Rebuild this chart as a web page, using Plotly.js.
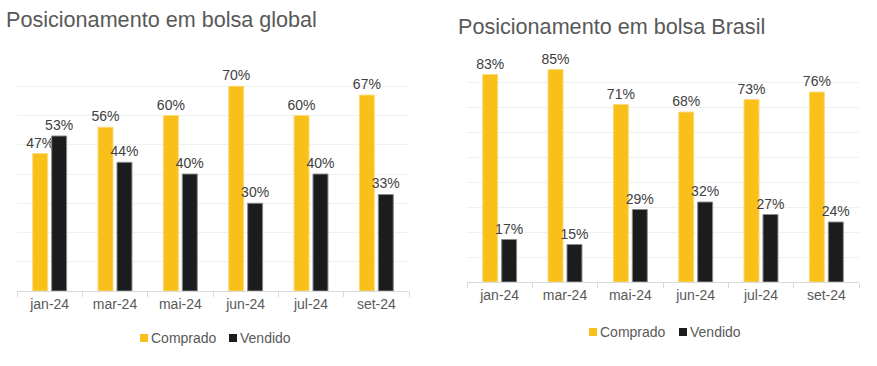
<!DOCTYPE html>
<html>
<head>
<meta charset="utf-8">
<script src="https://cdn.plot.ly/plotly-3.0.1.min.js"></script>
<style>html,body{margin:0;padding:0;background:#fff;}#chart{width:877px;height:366px;}</style>
</head>
<body>
<div id="chart"></div>
<script>
var months = ["jan-24", "mar-24", "mai-24", "jun-24", "jul-24", "set-24"];
var globalComprado = [47, 56, 60, 70, 60, 67];
var globalVendido = [53, 44, 40, 30, 40, 33];
var brasilComprado = [83, 85, 71, 68, 73, 76];
var brasilVendido = [17, 15, 29, 32, 27, 24];
var seriesNames = ["Comprado", "Vendido"];

var YELLOW = "#F8C018";
var BLACK = "#1B1C1E";
var TXT = "#595959";
var FONT = "Liberation Sans, Arial, sans-serif";
var W = 877, H = 366;

function bar(x, y, name, color, lineColor, xa, ya) {
  return {
    type: "bar", x: x, y: y, name: name,
    xaxis: xa, yaxis: ya, showlegend: false,
    marker: {color: color, line: {color: lineColor, width: 1}},
    texttemplate: "%{y}%", textposition: "outside", cliponaxis: false,
    constraintext: "none",
    textfont: {family: FONT, size: 14, color: "#404040"},
    hoverinfo: "x+y"
  };
}

var data = [
  bar(months, globalComprado, seriesNames[0], YELLOW, "#FADA7A", "x", "y"),
  bar(months, globalVendido, seriesNames[1], BLACK, "#8a8a8a", "x", "y"),
  bar(months, brasilComprado, seriesNames[0], YELLOW, "#FADA7A", "x2", "y2"),
  bar(months, brasilVendido, seriesNames[1], BLACK, "#8a8a8a", "x2", "y2")
];

var xbase = {
  type: "category", tickson: "boundaries", ticks: "outside", ticklen: 5,
  tickcolor: "#d9d9d9", showline: true, linecolor: "#d9d9d9", linewidth: 1,
  showgrid: false, tickfont: {family: FONT, size: 14, color: TXT}, fixedrange: true
};
var ybase = {
  showticklabels: false, showgrid: true, gridcolor: "#f0f0f0", gridwidth: 1,
  zeroline: false, dtick: 10, ticks: "", fixedrange: true
};

// manual legend keys (pixel positions converted to paper)
function px(x) { return x / W; }
function py(y) { return 1 - y / H; }
function key(x0, y0, color) {
  return {type: "rect", xref: "paper", yref: "paper", x0: px(x0), x1: px(x0 + 8),
    y0: py(y0 + 8), y1: py(y0), fillcolor: color, line: {width: 0}};
}
function label(x, yc, t) {
  return {text: t, xref: "paper", yref: "paper", x: px(x), y: py(yc), xanchor: "left",
    yanchor: "middle", showarrow: false, font: {family: FONT, size: 14, color: TXT}};
}

var layout = {
  width: W, height: H,
  margin: {l: 0, r: 0, t: 0, b: 0},
  paper_bgcolor: "#fff", plot_bgcolor: "#fff",
  font: {family: FONT, color: TXT},
  showlegend: false,
  barmode: "group", bargap: 0.42, bargroupgap: 0.21,
  xaxis: Object.assign({}, xbase, {domain: [17/W, 409/W], anchor: "y"}),
  yaxis: Object.assign({}, ybase, {domain: [1 - 291/H, 1 - 57/H], range: [0, 80.01], anchor: "x"}),
  xaxis2: Object.assign({}, xbase, {domain: [467/W, 859/W], anchor: "y2"}),
  yaxis2: Object.assign({}, ybase, {domain: [1 - 282/H, 1 - 57/H], range: [0, 90.01], anchor: "x2"}),
  shapes: [
    key(140, 334, YELLOW), key(229, 334, BLACK),
    key(589, 328, YELLOW), key(679, 328, BLACK)
  ],
  annotations: [
    {text: "Posicionamento em bolsa global", xref: "paper", yref: "paper", x: 4/W, y: 1 - 20/H,
     xanchor: "left", yanchor: "middle", showarrow: false, font: {family: FONT, size: 21.6, color: TXT}},
    {text: "Posicionamento em bolsa Brasil", xref: "paper", yref: "paper", x: 456/W, y: 1 - 27/H,
     xanchor: "left", yanchor: "middle", showarrow: false, font: {family: FONT, size: 21.6, color: TXT}},
    label(149, 338, seriesNames[0]), label(238, 338, seriesNames[1]),
    label(598, 332, seriesNames[0]), label(688, 332, seriesNames[1])
  ]
};

Plotly.newPlot("chart", data, layout, {displayModeBar: false, staticPlot: true});
</script>
</body>
</html>
